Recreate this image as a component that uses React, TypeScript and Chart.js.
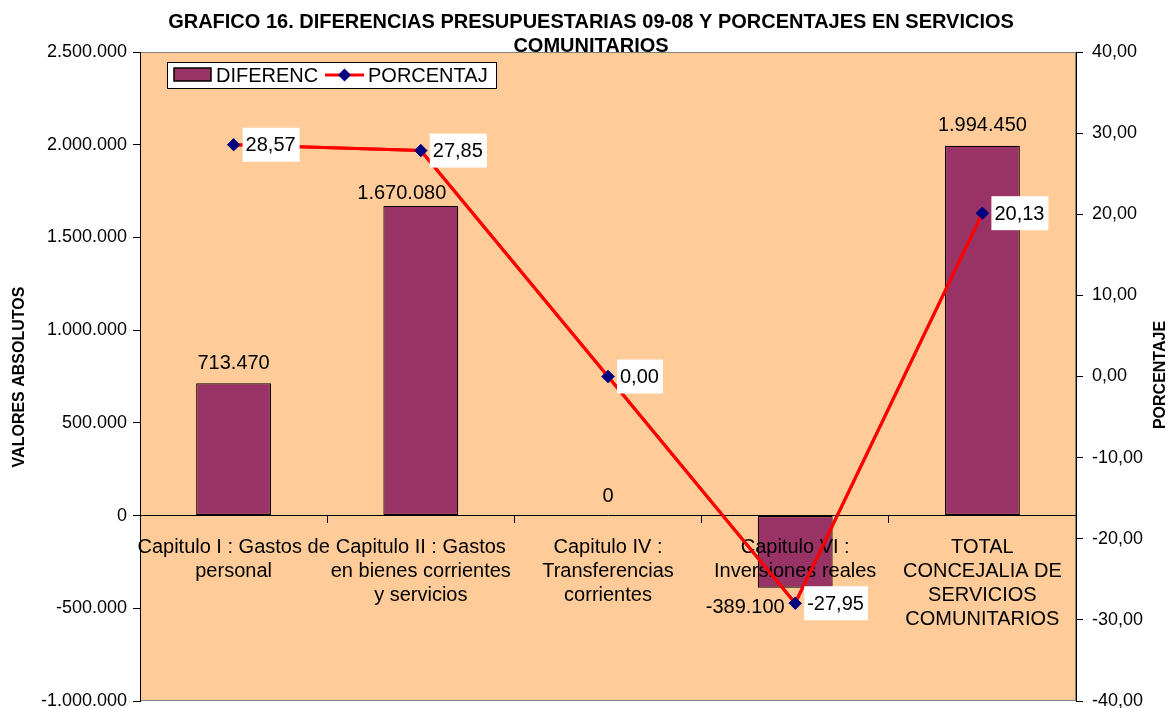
import React, { useEffect, useRef } from 'react';
import { Chart, registerables } from 'chart.js';

Chart.register(...registerables);

const FONT = '"Liberation Sans", Arial, Helvetica, sans-serif';

// ---- data ----
const categories: string[][] = [
  ['Capitulo I : Gastos de', 'personal'],
  ['Capitulo II : Gastos', 'en bienes corrientes', 'y servicios'],
  ['Capitulo IV :', 'Transferencias', 'corrientes'],
  ['Capitulo VI :', 'Inversiones reales'],
  ['TOTAL', 'CONCEJALIA DE', 'SERVICIOS', 'COMUNITARIOS'],
];
const diferencias: number[] = [713470, 1670080, 0, -389100, 1994450];
const porcentajes: number[] = [28.57, 27.85, 0.0, -27.95, 20.13];
const seriesNames: string[] = ['DIFERENC', 'PORCENTAJ'];
const chartTitle: string[] = [
  'GRAFICO 16. DIFERENCIAS PRESUPUESTARIAS 09-08 Y PORCENTAJES EN SERVICIOS',
  'COMUNITARIOS',
];
const leftAxisTitle = 'VALORES ABSOLUTOS';
const rightAxisTitle = 'PORCENTAJE';

// label nudges (style, not data)
const barLabelNudge: number[][] = [[0, -20], [-19, -12], [0, -19], [-50, 20], [0, -20]];

const fmtThousands = (v: number) =>
  Math.round(v).toString().replace(/\B(?=(\d{3})+(?!\d))/g, '.');
const fmtPct = (v: number) => v.toFixed(2).replace('.', ',');

const BAR_COLOR = '#993366';
const LINE_COLOR = '#FF0000';
const POINT_COLOR = '#000080';

const decorPlugin = {
  id: 'decor',
  beforeDraw(chart: any) {
    const { ctx, chartArea: a } = chart;
    ctx.save();
    ctx.fillStyle = '#FFCC99';
    ctx.fillRect(a.left, a.top, a.right - a.left, a.bottom - a.top);
    ctx.strokeStyle = '#808080';
    ctx.lineWidth = 1;
    ctx.strokeRect(a.left + 0.5, a.top + 0.5, a.right - a.left - 1, a.bottom - a.top - 1);
    ctx.restore();
  },
  afterDraw(chart: any) {
    const { ctx } = chart;
    // redraw the percentage line above the category labels
    const lineMeta = chart.getDatasetMeta(1);
    try {
      lineMeta.controller.draw();
    } catch (e) {
      /* ignore */
    }

    ctx.save();
    // title
    ctx.fillStyle = '#000';
    ctx.font = `bold 20px ${FONT}`;
    ctx.textAlign = 'center';
    ctx.textBaseline = 'middle';
    ctx.fillText(chartTitle[0], 591, 22);
    ctx.fillText(chartTitle[1], 591, 46);

    // axis titles
    ctx.font = `bold 16px ${FONT}`;
    ctx.save();
    ctx.translate(20, 377);
    ctx.rotate(-Math.PI / 2);
    ctx.fillText(leftAxisTitle, 0, 0);
    ctx.restore();
    ctx.save();
    ctx.translate(1161, 375);
    ctx.rotate(-Math.PI / 2);
    ctx.fillText(rightAxisTitle, 0, 0);
    ctx.restore();

    // bar labels
    ctx.font = `20px ${FONT}`;
    const barMeta = chart.getDatasetMeta(0);
    barMeta.data.forEach((el: any, i: number) => {
      const n = barLabelNudge[i] || [0, -20];
      ctx.fillStyle = '#000';
      ctx.textAlign = 'center';
      ctx.textBaseline = 'middle';
      ctx.fillText(fmtThousands(diferencias[i]), el.x + n[0], el.y + n[1]);
    });

    // point labels
    lineMeta.data.forEach((el: any, i: number) => {
      const txt = fmtPct(porcentajes[i]);
      const w = ctx.measureText(txt).width;
      const left = el.x + 9;
      ctx.fillStyle = '#FFFFFF';
      ctx.fillRect(left, el.y - 17, w + 7, 34);
      ctx.fillStyle = '#000';
      ctx.textAlign = 'left';
      ctx.textBaseline = 'middle';
      ctx.fillText(txt, left + 3, el.y + 1);
    });

    // legend
    const lx = 167, ly = 62, lw = 329, lh = 26;
    ctx.fillStyle = '#FFFFFF';
    ctx.fillRect(lx, ly, lw, lh);
    ctx.strokeStyle = '#000';
    ctx.lineWidth = 1;
    ctx.strokeRect(lx + 0.5, ly + 0.5, lw, lh);
    ctx.fillStyle = BAR_COLOR;
    ctx.fillRect(174, 68, 37, 13);
    ctx.strokeStyle = '#000';
    ctx.lineWidth = 1.5;
    ctx.strokeRect(174, 68, 37, 13);
    ctx.fillStyle = '#000';
    ctx.font = `20px ${FONT}`;
    ctx.textAlign = 'left';
    ctx.textBaseline = 'middle';
    ctx.fillText(seriesNames[0], 216, 76);
    ctx.strokeStyle = LINE_COLOR;
    ctx.lineWidth = 3;
    ctx.beginPath();
    ctx.moveTo(325, 75);
    ctx.lineTo(364, 75);
    ctx.stroke();
    ctx.fillStyle = POINT_COLOR;
    ctx.beginPath();
    ctx.moveTo(344.5, 68.5);
    ctx.lineTo(351, 75);
    ctx.lineTo(344.5, 81.5);
    ctx.lineTo(338, 75);
    ctx.closePath();
    ctx.fill();
    ctx.fillStyle = '#000';
    ctx.fillText(seriesNames[1], 368, 76);
    ctx.restore();
  },
};

export default function App() {
  const ref = useRef<HTMLCanvasElement | null>(null);

  useEffect(() => {
    if (!ref.current) return;
    const chart = new Chart(ref.current, {
      type: 'bar',
      data: {
        labels: categories,
        datasets: [
          {
            type: 'bar',
            label: seriesNames[0],
            data: diferencias,
            yAxisID: 'y',
            backgroundColor: BAR_COLOR,
            borderColor: '#000000',
            borderWidth: 1.2,
            borderSkipped: false,
            barPercentage: 0.4,
            categoryPercentage: 1.0,
            order: 2,
          } as any,
          {
            type: 'line',
            label: seriesNames[1],
            data: porcentajes,
            yAxisID: 'y1',
            borderColor: LINE_COLOR,
            borderWidth: 3,
            backgroundColor: POINT_COLOR,
            pointStyle: 'rectRot',
            pointRadius: 6,
            pointBackgroundColor: POINT_COLOR,
            pointBorderColor: POINT_COLOR,
            pointBorderWidth: 1,
            tension: 0,
            fill: false,
            order: 1,
          } as any,
        ],
      },
      options: {
        responsive: false,
        animation: false,
        devicePixelRatio: 1,
        layout: { padding: { top: 52, bottom: 6, left: 0, right: 0 } },
        plugins: {
          legend: { display: false },
          tooltip: { enabled: false },
          title: { display: false },
        },
        scales: {
          x: {
            type: 'category',
            position: { y: 0 } as any,
            offset: true,
            grid: {
              display: true,
              drawOnChartArea: false,
              drawTicks: true,
              tickLength: 7,
              color: '#000',
              offset: true,
              z: 1,
            },
            border: { display: true, color: '#000', width: 1, z: 1 },
            ticks: {
              color: '#000',
              font: { family: FONT, size: 20, lineHeight: 1.2 },
              maxRotation: 0,
              minRotation: 0,
              autoSkip: false,
              padding: 13,
              z: 1,
            },
            afterFit: (s: any) => {
              s.paddingLeft = 0;
              s.paddingRight = 0;
              s.paddingTop = 0;
              s.paddingBottom = 0;
            },
          } as any,
          y: {
            type: 'linear',
            position: 'left',
            min: -1000000,
            max: 2500000,
            ticks: {
              stepSize: 500000,
              color: '#000',
              font: { family: FONT, size: 18 },
              padding: 6,
              callback: (v: any) => fmtThousands(Number(v)),
            },
            grid: { display: true, drawOnChartArea: false, tickLength: 7, color: '#000' },
            border: { display: true, color: '#000', width: 1 },
            afterFit: (s: any) => {
              s.width = 140;
              s.paddingTop = 0;
              s.paddingBottom = 0;
            },
          } as any,
          y1: {
            type: 'linear',
            position: 'right',
            min: -40,
            max: 40,
            ticks: {
              stepSize: 10,
              color: '#000',
              font: { family: FONT, size: 18 },
              padding: 9,
              callback: (v: any) => fmtPct(Number(v)),
            },
            grid: { display: true, drawOnChartArea: false, tickLength: 7, color: '#000' },
            border: { display: true, color: '#000', width: 1 },
            afterFit: (s: any) => {
              s.width = 92;
              s.paddingTop = 0;
              s.paddingBottom = 0;
            },
          } as any,
        },
      },
      plugins: [decorPlugin],
    });
    return () => chart.destroy();
  }, []);

  return (
    <div style={{ position: 'absolute', left: 0, top: 0, width: 1168, height: 708, background: '#fff' }}>
      <canvas ref={ref} width={1168} height={708} style={{ width: 1168, height: 708, display: 'block' }} />
    </div>
  );
}
